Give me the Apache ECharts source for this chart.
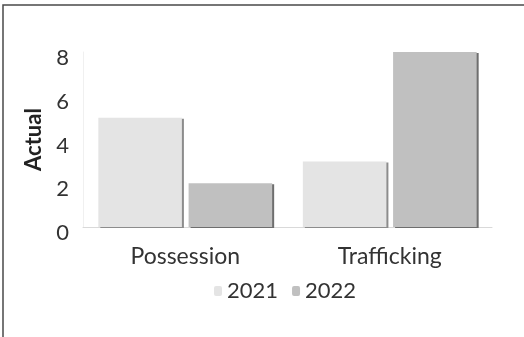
<!DOCTYPE html>
<html>
<head>
<meta charset="utf-8">
<script src="https://cdn.jsdelivr.net/npm/echarts@6/dist/echarts.min.js"></script>
<style>
  html, body { margin: 0; padding: 0; background: #fff; }
  #chart { width: 524px; height: 337px; }
</style>
</head>
<body>
<div id="chart"></div>
<script>
// Offence categories and yearly counts
const categories = ['Possession', 'Trafficking'];
const years = ['2021', '2022'];
const values2021 = [5, 3];
const values2022 = [2, 8];
const yTicks = [0, 2, 4, 6, 8];

const FONT = 'Lato, "DejaVu Sans", sans-serif';

const chart = echarts.init(document.getElementById('chart'), null, { renderer: 'canvas' });

chart.setOption({
  animation: false,
  backgroundColor: '#ffffff',
  graphic: [{
    type: 'rect',
    shape: { x: 3, y: 5, width: 540, height: 360 },
    style: { fill: 'none', stroke: '#4a4a4a', lineWidth: 1.5 },
    silent: true,
    z: 100
  }],
  grid: { left: 83, right: 32, top: 52, bottom: 110, containLabel: false },
  legend: {
    data: years,
    bottom: 30,
    left: 209,
    itemWidth: 8,
    itemHeight: 10,
    itemGap: 14,
    textStyle: { fontFamily: FONT, fontSize: 22, color: '#333' }
  },
  xAxis: {
    type: 'category',
    data: categories,
    axisLine: { lineStyle: { color: '#d9d9d9', width: 1 } },
    axisTick: { show: false },
    axisLabel: { fontFamily: FONT, fontSize: 23, color: '#333', margin: 18 }
  },
  yAxis: {
    type: 'value',
    min: yTicks[0],
    max: yTicks[yTicks.length - 1],
    interval: 2,
    name: 'Actual',
    nameLocation: 'middle',
    nameRotate: 90,
    nameGap: 30,
    nameTextStyle: { fontFamily: FONT, fontSize: 22, fontWeight: 'bold', color: '#222' },
    axisLine: { show: true, lineStyle: { color: '#f0f0f0' } },
    axisTick: { show: false },
    splitLine: { show: false },
    axisLabel: {
      fontFamily: FONT, fontSize: 22, color: '#333', margin: 14,
      verticalAlign: 'top', lineHeight: 12
    }
  },
  series: [
    {
      name: years[0],
      type: 'bar',
      data: values2021,
      barGap: '8%',
      barCategoryGap: '15%',
      itemStyle: {
        color: '#e4e4e4',
        shadowColor: '#8c8c8c',
        shadowOffsetX: 2,
        shadowOffsetY: 1,
        shadowBlur: 0
      }
    },
    {
      name: years[1],
      type: 'bar',
      data: values2022,
      itemStyle: {
        color: '#c0c0c0',
        shadowColor: '#6e6e6e',
        shadowOffsetX: 2,
        shadowOffsetY: 1,
        shadowBlur: 0
      }
    }
  ]
});
</script>
</body>
</html>
